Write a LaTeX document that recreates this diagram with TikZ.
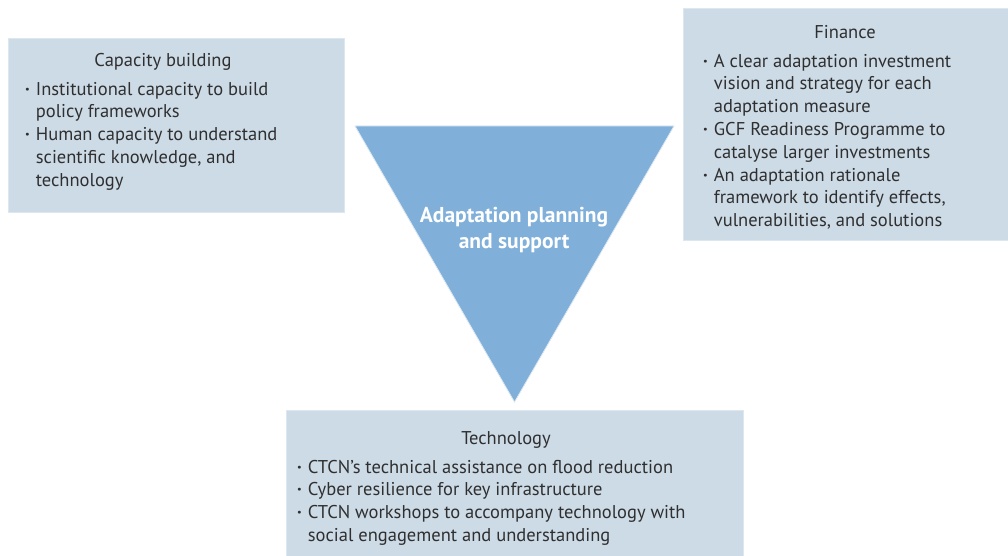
\documentclass[tikz,border=0pt]{standalone}
\usepackage{fontspec}
\setmainfont{PT Sans}
\usepackage{xcolor}
\usepackage{tikz}
\usetikzlibrary{positioning}

\definecolor{boxblue}{HTML}{CDDBE7}
\definecolor{edgeblue}{HTML}{DCE7F0}
\definecolor{triblue}{HTML}{80B0DA}
\definecolor{inkgray}{HTML}{2F2F2F}

\newcommand{\bl}{\textbf{\textperiodcentered}}

\begin{document}
\begin{tikzpicture}[
  x=1pt, y=-1pt,
  box/.style={fill=boxblue, draw=edgeblue, line width=1pt, anchor=north west, inner sep=0pt},
  head/.style={text=inkgray, font=\fontsize{18.5}{22.8}\selectfont, inner sep=0pt},
  items/.style={text=inkgray, font=\fontsize{18.5}{22.8}\selectfont, align=left, inner sep=0pt, anchor=north west},
  centre/.style={text=white, font=\fontsize{21.5}{26}\selectfont\bfseries, align=center}
]
  \useasboundingbox (0,0) rectangle (1008,556);

  % boxes
  \node[box, minimum width=336pt, minimum height=174pt] (cap) at (8,38) {};
  \node[box, minimum width=326pt, minimum height=232pt] (fin) at (683,8) {};
  \node[box, minimum width=457pt, minimum height=148pt] (tech) at (286,410) {};

  % triangle
  \coordinate (tl) at (355,126);
  \coordinate (tr) at (674,126);
  \coordinate (tip) at (514.5,402);
  \fill[triblue] (tl) -- (tr) -- (tip) -- cycle;
  \draw[edgeblue, line width=0.8pt] (tl) -- (tr) -- (tip) -- cycle;
  \node[centre] (adapt) at (514,230) {Adaptation planning\\and support};

  % capacity building
  \node[head] (caph) at (163,62) {Capacity building};
  \node[items] (capt) at (25,79) {%
    \begin{tabular}{@{}l@{\hspace{6pt}}l@{}}
      \bl & Institutional capacity to build\\
          & policy frameworks\\
      \bl & Human capacity to understand\\
          & scientific knowledge, and\\
          & technology
    \end{tabular}};

  % finance
  \node[head] (finh) at (845,32.5) {Finance};
  \node[items] (fint) at (703,51) {%
    \begin{tabular}{@{}l@{\hspace{6pt}}l@{}}
      \bl & A clear adaptation investment\\
          & vision and strategy for each\\
          & adaptation measure\\
      \bl & GCF Readiness Programme to\\
          & catalyse larger investments\\
      \bl & An adaptation rationale\\
          & framework to identify effects,\\
          & vulnerabilities, and solutions
    \end{tabular}};

  % technology
  \node[head] (techh) at (506,440) {Technology};
  \node[items] (techt) at (297,457) {%
    \begin{tabular}{@{}l@{\hspace{6pt}}l@{}}
      \bl & CTCN's technical assistance on flood reduction\\
      \bl & Cyber resilience for key infrastructure\\
      \bl & CTCN workshops to accompany technology with\\
          & social engagement and understanding
    \end{tabular}};
\end{tikzpicture}
\end{document}
